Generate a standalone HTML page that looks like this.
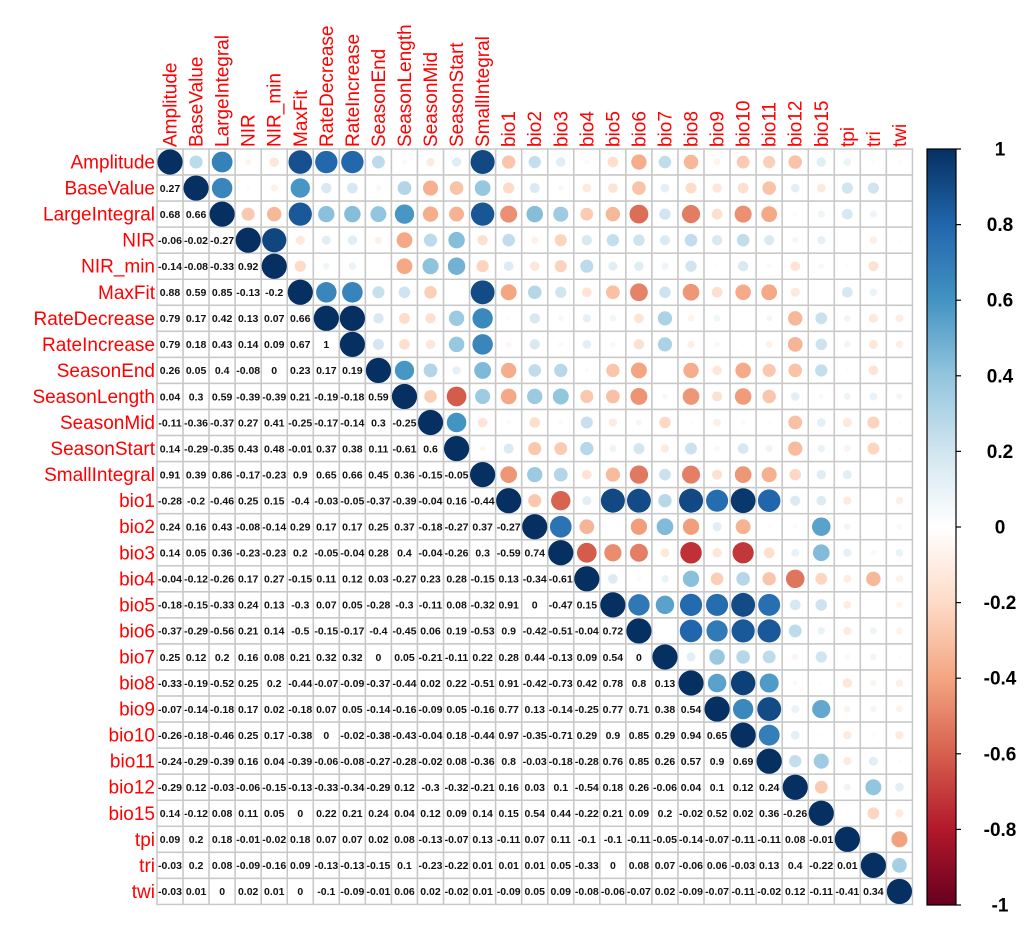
<!DOCTYPE html>
<html><head><meta charset="utf-8"><style>
html,body{margin:0;padding:0;background:#fff;}
svg text{font-family:"Liberation Sans",Arial,sans-serif;}
</style></head><body>
<svg id="chart" width="1024" height="922" xmlns="http://www.w3.org/2000/svg">
<defs><linearGradient id="cbgrad" x1="0" y1="1" x2="0" y2="0">
<stop offset="0" stop-color="#67001F"/><stop offset="0.1" stop-color="#B2182B"/><stop offset="0.2" stop-color="#D6604D"/><stop offset="0.3" stop-color="#F4A582"/><stop offset="0.4" stop-color="#FDDBC7"/><stop offset="0.5" stop-color="#FFFFFF"/><stop offset="0.6" stop-color="#D1E5F0"/><stop offset="0.7" stop-color="#92C5DE"/><stop offset="0.8" stop-color="#4393C3"/><stop offset="0.9" stop-color="#2166AC"/><stop offset="1" stop-color="#053061"/>
</linearGradient></defs>
<g id="grid"></g><g id="marks"></g><g id="labels"></g><g id="legend"></g>
</svg>
<script>
const variables = ["Amplitude","BaseValue","LargeIntegral","NIR","NIR_min","MaxFit","RateDecrease","RateIncrease","SeasonEnd","SeasonLength","SeasonMid","SeasonStart","SmallIntegral","bio1","bio2","bio3","bio4","bio5","bio6","bio7","bio8","bio9","bio10","bio11","bio12","bio15","tpi","tri","twi"];
const lowerRows = [
[],
[0.27],
[0.68,0.66],
[-0.06,-0.02,-0.27],
[-0.14,-0.08,-0.33,0.92],
[0.88,0.59,0.85,-0.13,-0.2],
[0.79,0.17,0.42,0.13,0.07,0.66],
[0.79,0.18,0.43,0.14,0.09,0.67,1],
[0.26,0.05,0.4,-0.08,0,0.23,0.17,0.19],
[0.04,0.3,0.59,-0.39,-0.39,0.21,-0.19,-0.18,0.59],
[-0.11,-0.36,-0.37,0.27,0.41,-0.25,-0.17,-0.14,0.3,-0.25],
[0.14,-0.29,-0.35,0.43,0.48,-0.01,0.37,0.38,0.11,-0.61,0.6],
[0.91,0.39,0.86,-0.17,-0.23,0.9,0.65,0.66,0.45,0.36,-0.15,-0.05],
[-0.28,-0.2,-0.46,0.25,0.15,-0.4,-0.03,-0.05,-0.37,-0.39,-0.04,0.16,-0.44],
[0.24,0.16,0.43,-0.08,-0.14,0.29,0.17,0.17,0.25,0.37,-0.18,-0.27,0.37,-0.27],
[0.14,0.05,0.36,-0.23,-0.23,0.2,-0.05,-0.04,0.28,0.4,-0.04,-0.26,0.3,-0.59,0.74],
[-0.04,-0.12,-0.26,0.17,0.27,-0.15,0.11,0.12,0.03,-0.27,0.23,0.28,-0.15,0.13,-0.34,-0.61],
[-0.18,-0.15,-0.33,0.24,0.13,-0.3,0.07,0.05,-0.28,-0.3,-0.11,0.08,-0.32,0.91,0,-0.47,0.15],
[-0.37,-0.29,-0.56,0.21,0.14,-0.5,-0.15,-0.17,-0.4,-0.45,0.06,0.19,-0.53,0.9,-0.42,-0.51,-0.04,0.72],
[0.25,0.12,0.2,0.16,0.08,0.21,0.32,0.32,0,0.05,-0.21,-0.11,0.22,0.28,0.44,-0.13,0.09,0.54,0],
[-0.33,-0.19,-0.52,0.25,0.2,-0.44,-0.07,-0.09,-0.37,-0.44,0.02,0.22,-0.51,0.91,-0.42,-0.73,0.42,0.78,0.8,0.13],
[-0.07,-0.14,-0.18,0.17,0.02,-0.18,0.07,0.05,-0.14,-0.16,-0.09,0.05,-0.16,0.77,0.13,-0.14,-0.25,0.77,0.71,0.38,0.54],
[-0.26,-0.18,-0.46,0.25,0.17,-0.38,0,-0.02,-0.38,-0.43,-0.04,0.18,-0.44,0.97,-0.35,-0.71,0.29,0.9,0.85,0.29,0.94,0.65],
[-0.24,-0.29,-0.39,0.16,0.04,-0.39,-0.06,-0.08,-0.27,-0.28,-0.02,0.08,-0.36,0.8,-0.03,-0.18,-0.28,0.76,0.85,0.26,0.57,0.9,0.69],
[-0.29,0.12,-0.03,-0.06,-0.15,-0.13,-0.33,-0.34,-0.29,0.12,-0.3,-0.32,-0.21,0.16,0.03,0.1,-0.54,0.18,0.26,-0.06,0.04,0.1,0.12,0.24],
[0.14,-0.12,0.08,0.11,0.05,0,0.22,0.21,0.24,0.04,0.12,0.09,0.14,0.15,0.54,0.44,-0.22,0.21,0.09,0.2,-0.02,0.52,0.02,0.36,-0.26],
[0.09,0.2,0.18,-0.01,-0.02,0.18,0.07,0.07,0.02,0.08,-0.13,-0.07,0.13,-0.11,0.07,0.11,-0.1,-0.1,-0.11,-0.05,-0.14,-0.07,-0.11,-0.11,0.08,-0.01],
[-0.03,0.2,0.08,-0.09,-0.16,0.09,-0.13,-0.13,-0.15,0.1,-0.23,-0.22,0.01,0.01,0.01,0.05,-0.33,0,0.08,0.07,-0.06,0.06,-0.03,0.13,0.4,-0.22,0.01],
[-0.03,0.01,0,0.02,0.01,0,-0.1,-0.09,-0.01,0.06,0.02,-0.02,0.01,-0.09,0.05,0.09,-0.08,-0.06,-0.07,0.02,-0.09,-0.07,-0.11,-0.02,0.12,-0.11,-0.41,0.34]
];
const colorbarTicks = [1,0.8,0.6,0.4,0.2,0,-0.2,-0.4,-0.6,-0.8,-1];
const paletteStops = ["#67001F","#B2182B","#D6604D","#F4A582","#FDDBC7","#FFFFFF","#D1E5F0","#92C5DE","#4393C3","#2166AC","#053061"];

const NS="http://www.w3.org/2000/svg";
const N=variables.length, X0=157, Y0=149, CELL=26.05;
const cx=i=>X0+CELL*(i+0.5), cy=i=>Y0+CELL*(i+0.5);
const CB_X=927, CB_W=29, CB_TOP=149, CB_BOT=905;
const cbY=v=>CB_TOP+(1-v)/2*(CB_BOT-CB_TOP);
function corr(i,j){ if(i===j) return 1; return i>j?lowerRows[i][j]:lowerRows[j][i]; }
function hex(h){return [1,3,5].map(k=>parseInt(h.substr(k,2),16));}
function color(v){
  const t=(v+1)/2*(paletteStops.length-1); const k=Math.min(Math.floor(t),paletteStops.length-2); const f=t-k;
  const a=hex(paletteStops[k]), b=hex(paletteStops[k+1]);
  return "rgb("+a.map((x,q)=>Math.round(x+(b[q]-x)*f)).join(",")+")";
}
function mk(tag,attrs,parent){const e=document.createElementNS(NS,tag);for(const k in attrs)e.setAttribute(k,attrs[k]);parent.appendChild(e);return e;}
const grid=document.getElementById('grid'), marks=document.getElementById('marks'), labels=document.getElementById('labels'), legend=document.getElementById('legend');

for(let i=0;i<N;i++){for(let j=0;j<N;j++){
  const r=mk('rect',{x:X0+CELL*j,y:Y0+CELL*i,width:CELL,height:CELL,fill:'#fff',stroke:'#c8c8c8','stroke-width':1.5},grid);
  
  
  const v=corr(i,j);
  if(j>=i){
    const c=mk('circle',{cx:cx(j),cy:cy(i),r:12.6*Math.sqrt(Math.abs(v)),fill:color(v)},marks);
    
    
  } else {
    const t=mk('text',{x:cx(j),y:cy(i)+3.8,'text-anchor':'middle','font-size':10.5,'font-weight':'bold',fill:'#111'},marks);
    t.textContent=String(v);
    
    
  }
}}
variables.forEach((name,i)=>{
  const t=mk('text',{x:X0-2,y:cy(i)+6.5,'text-anchor':'end','font-size':19,fill:'#ff0000'},labels);
  t.textContent=name;
  
  
  const c=mk('text',{x:0,y:0,'text-anchor':'start','font-size':19,fill:'#ff0000',transform:'translate('+(cx(i)+6.5)+','+(Y0-2)+') rotate(-90)'},labels);
  c.textContent=name;
  
  
});
const bar=mk('rect',{x:CB_X,y:CB_TOP,width:CB_W,height:CB_BOT-CB_TOP,fill:'url(#cbgrad)',stroke:'#000','stroke-width':1.2},legend);


colorbarTicks.forEach(v=>{
  const l=mk('line',{x1:CB_X+CB_W,x2:CB_X+CB_W+5,y1:cbY(v),y2:cbY(v),stroke:'#000','stroke-width':1.2},legend);
  
  
  const t=mk('text',{x:1000,y:cbY(v)+6.5,'text-anchor':'middle','font-size':19,'font-weight':'bold',fill:'#000'},legend);
  t.textContent=String(v);
  
  
});
</script>
</body></html>
